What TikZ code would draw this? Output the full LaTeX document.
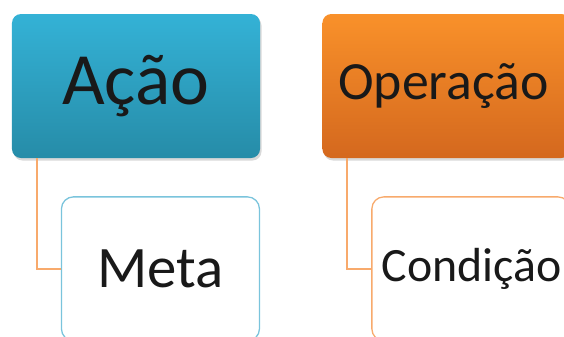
\documentclass[tikz,border=0pt]{standalone}
\usepackage{fontspec}
\setmainfont{Carlito}
\usetikzlibrary{shapes, shadows, positioning}
\definecolor{acaoTop}{RGB}{52,178,214}
\definecolor{acaoBottom}{RGB}{38,140,168}
\definecolor{opTop}{RGB}{249,145,42}
\definecolor{opBottom}{RGB}{212,104,30}
\definecolor{metaLine}{RGB}{122,196,220}
\definecolor{condLine}{RGB}{248,170,108}
\colorlet{linkColor}{condLine}
\tikzstyle{topBox}=[rectangle, rounded corners=9bp, align=center, inner sep=0pt,
minimum width=248bp, minimum height=144bp,
drop shadow={opacity=0.3, shadow xshift=1.5bp, shadow yshift=-2.5bp}]
\tikzstyle{acaoBox}=[topBox, top color=acaoTop, bottom color=acaoBottom]
\tikzstyle{opBox}=[topBox, top color=opTop, bottom color=opBottom]
\tikzstyle{subBox}=[rectangle, rounded corners=12bp, align=center, inner sep=0pt,
minimum width=198bp, minimum height=144bp, fill=white, line width=1.3bp]
\tikzstyle{link}=[draw=linkColor, line width=1.5bp]

\begin{document}
\begin{tikzpicture}[x=1bp, y=-1bp, font=\color{black!90}]
      \clip (0,0) rectangle (564,336);
      \node(acao) [acaoBox] at (136,86) {\fontsize{74}{80}\selectfont Ação};
      \node(op) [opBox, right=62bp of acao] {\fontsize{54}{60}\selectfont\hspace*{-6bp}Operação};
      \node(meta) [subBox, draw=metaLine, below right=38bp and 49bp of acao.south west]
        {\fontsize{59}{64}\selectfont Meta};
      \draw [link] ([xshift=25bp]acao.south west) |- (meta.west);
      \node(cond) [subBox, draw=condLine, below right=38bp and 49bp of op.south west]
        {\fontsize{48}{54}\selectfont\hspace*{2bp}Condição};
      \draw [link] ([xshift=25bp]op.south west) |- (cond.west);
    \end{tikzpicture}
\end{document}
